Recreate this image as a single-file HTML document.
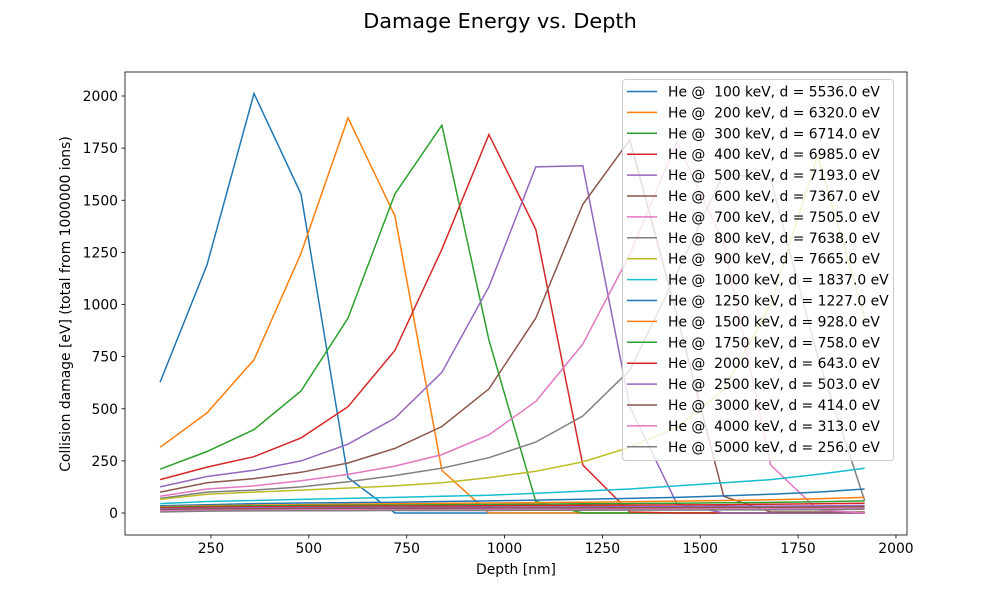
<!DOCTYPE html>
<html><head><meta charset="utf-8"><style>
body{margin:0;background:#fff;font-family:"Liberation Sans","DejaVu Sans",sans-serif}
svg text{font-family:"DejaVu Sans","Liberation Sans",sans-serif;fill:#000}
</style></head><body>
<svg id="chart" width="1000" height="600" viewBox="0 0 1000 600" xmlns="http://www.w3.org/2000/svg">
<rect width="1000" height="600" fill="#fff"/>
<text x="500" y="28" font-size="20.8" text-anchor="middle">Damage Energy vs. Depth</text>
<g id="plot"></g>
</svg>
<script>
const depths=[120,240,360,480,600,720,840,960,1080,1200,1320,1440,1560,1680,1800,1920];
const labels=["He @  100 keV, d = 5536.0 eV","He @  200 keV, d = 6320.0 eV","He @  300 keV, d = 6714.0 eV","He @  400 keV, d = 6985.0 eV","He @  500 keV, d = 7193.0 eV","He @  600 keV, d = 7367.0 eV","He @  700 keV, d = 7505.0 eV","He @  800 keV, d = 7638.0 eV","He @  900 keV, d = 7665.0 eV","He @  1000 keV, d = 1837.0 eV","He @  1250 keV, d = 1227.0 eV","He @  1500 keV, d = 928.0 eV","He @  1750 keV, d = 758.0 eV","He @  2000 keV, d = 643.0 eV","He @  2500 keV, d = 503.0 eV","He @  3000 keV, d = 414.0 eV","He @  4000 keV, d = 313.0 eV","He @  5000 keV, d = 256.0 eV"];
const s100=[628,1190,2012,1530,170,0,0,0,0,0,0,0,0,0,0,0];
const s200=[315,480,735,1245,1895,1425,205,0,0,0,0,0,0,0,0,0];
const s300=[210,295,400,585,935,1530,1860,830,55,0,0,0,0,0,0,0];
const s400=[160,220,270,360,510,780,1265,1815,1360,230,5,0,0,0,0,0];
const s500=[125,175,205,250,330,455,675,1085,1660,1665,510,45,0,0,0,0];
const s600=[100,145,165,195,240,310,415,595,935,1480,1790,950,80,5,5,5];
const s700=[80,115,130,155,185,225,280,375,535,810,1240,1780,1295,230,15,0];
const s800=[70,100,110,125,150,180,215,265,340,465,685,1150,1630,1600,750,60];
const s900=[65,90,100,110,120,130,145,170,200,245,315,410,590,1000,1715,940];
const s1000=[45,55,60,65,70,75,80,85,95,105,115,130,145,160,185,215];
const s1250=[35,40,45,48,50,52,55,58,62,66,70,75,82,90,100,115];
const s1500=[30,35,38,40,42,44,46,48,50,52,54,57,60,64,68,75];
const s1750=[27,31,34,36,37,38,40,41,42,44,45,47,49,51,54,58];
const s2000=[24,28,30,31,32,33,34,35,36,37,38,39,40,42,44,47];
const s2500=[20,23,25,26,27,28,28,29,29,30,30,31,32,33,34,36];
const s3000=[16,19,20,21,22,22,23,23,24,24,25,25,26,27,28,30];
const s4000=[10,13,14,15,15,16,16,17,17,18,18,19,19,20,21,23];
const s5000=[5,9,10,11,11,12,12,12,13,13,14,14,15,15,16,18];
const series=[s100,s200,s300,s400,s500,s600,s700,s800,s900,s1000,s1250,s1500,s1750,s2000,s2500,s3000,s4000,s5000];
const xTicks=[500,750,1000,1250,1500,1750,2000,250];
const yTicks=[0,250,500,750,1000,1250,1500,1750,2000];
const colors=["#1f77b4","#ff7f0e","#2ca02c","#d62728","#9467bd","#8c564b","#e377c2","#7f7f7f","#bcbd22","#17becf"];
const L=125,R=907,T=72,B=535;
const xs=d=>113.1+d*0.39143;
const ys=v=>513-v*0.2085;
const NS="http://www.w3.org/2000/svg";
const g=document.getElementById('plot');
function mk(t,a){const e=document.createElementNS(NS,t);for(const k in a)e.setAttribute(k,a[k]);return e;}
const clip=mk('clipPath',{id:'cp'});clip.appendChild(mk('rect',{x:L,y:T,width:R-L,height:B-T}));g.appendChild(clip);
series.forEach((s,i)=>{
  const p=mk('polyline',{points:s.map((v,j)=>xs(depths[j]).toFixed(1)+','+ys(v).toFixed(1)).join(' '),fill:'none',stroke:colors[i%10],'stroke-width':1.5,'clip-path':'url(#cp)'});
  
  
  g.appendChild(p);
});
const frame=mk('rect',{x:L,y:T,width:R-L,height:B-T,fill:'none',stroke:'#000','stroke-width':0.8});


g.appendChild(frame);
xTicks.forEach(t=>{
  const x=xs(t);
  g.appendChild(mk('line',{x1:x,x2:x,y1:B,y2:B+3.5,stroke:'#000','stroke-width':0.8}));
  const tx=mk('text',{x:x,y:B+18,'font-size':13.9,'text-anchor':'middle'});tx.textContent=t;
  
  
  g.appendChild(tx);
});
yTicks.forEach(t=>{
  const y=ys(t);
  g.appendChild(mk('line',{x1:L-3.5,x2:L,y1:y,y2:y,stroke:'#000','stroke-width':0.8}));
  const tx=mk('text',{x:L-7,y:y+5,'font-size':13.9,'text-anchor':'end'});tx.textContent=t;
  
  
  g.appendChild(tx);
});
const xl=mk('text',{x:(L+R)/2,y:574,'font-size':13.9,'text-anchor':'middle'});xl.textContent='Depth [nm]';


g.appendChild(xl);
const yl=mk('text',{x:0,y:0,'font-size':13.9,'text-anchor':'middle',transform:'translate(70,304) rotate(-90)'});yl.textContent='Collision damage [eV] (total from 1000000 ions)';


g.appendChild(yl);
const lg=mk('rect',{x:622.5,y:79.5,width:271,height:381,rx:3,fill:'#fff','fill-opacity':0.8,stroke:'#ccc','stroke-width':1});


g.appendChild(lg);
labels.forEach((lab,i)=>{
  const y=91.5+i*20.9;
  const ln=mk('line',{x1:627,x2:657,y1:y,y2:y,stroke:colors[i%10],'stroke-width':1.5});
  
  
  g.appendChild(ln);
  const tx=mk('text',{x:668,y:y+5,'font-size':13.9,'xml:space':'preserve'});tx.textContent=lab;
  
  
  tx.style.whiteSpace='pre';
  g.appendChild(tx);
});
</script>
</body></html>
